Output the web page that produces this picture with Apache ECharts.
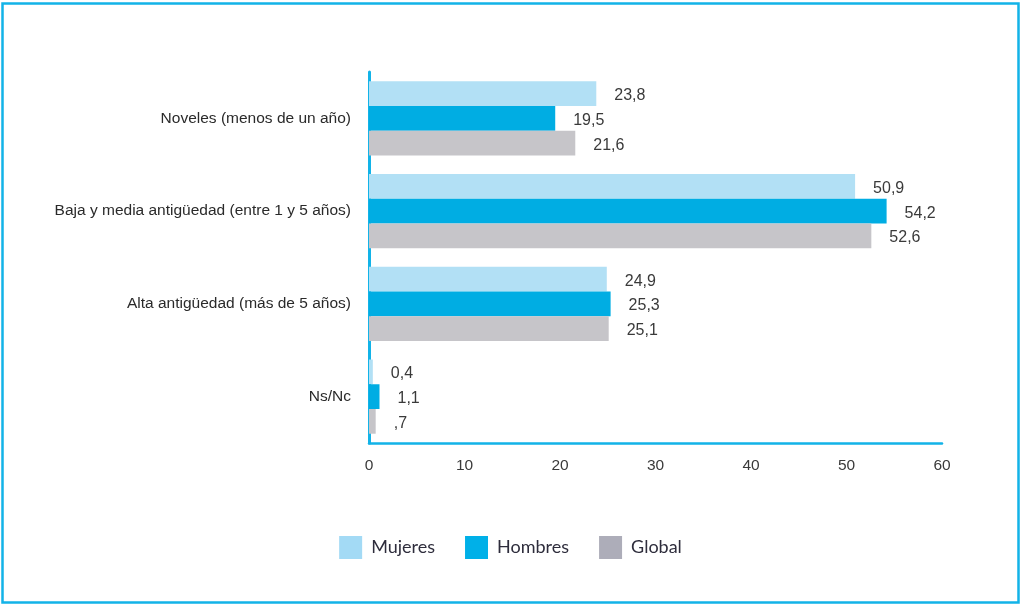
<!DOCTYPE html>
<html>
<head>
<meta charset="utf-8">
<script src="https://cdn.jsdelivr.net/npm/echarts@6/dist/echarts.min.js"></script>
<style>
  html, body { margin: 0; padding: 0; background: #ffffff; }
  #chart { width: 1021px; height: 606px; }
</style>
</head>
<body>
<div id="chart"></div>
<script>
// Antigüedad por sexo (%)
const categories = [
  'Noveles (menos de un año)',
  'Baja y media antigüedad (entre 1 y 5 años)',
  'Alta antigüedad (más de 5 años)',
  'Ns/Nc'
];
const mujeres = [23.8, 50.9, 24.9, 0.4];
const hombres = [19.5, 54.2, 25.3, 1.1];
const global = [21.6, 52.6, 25.1, 0.7];
const labelText = {
  Mujeres: ['23,8', '50,9', '24,9', '0,4'],
  Hombres: ['19,5', '54,2', '25,3', '1,1'],
  Global: ['21,6', '52,6', '25,1', ',7']
};
const xTicks = { min: 0, max: 60, interval: 10 };

const chart = echarts.init(document.getElementById('chart'));

function barSeries(name, data, color) {
  return {
    name: name,
    type: 'bar',
    data: data,
    barGap: '0%',
    barCategoryGap: '20%',
    itemStyle: { color: color },
    label: {
      show: true,
      position: 'right',
      distance: 18,
      fontFamily: 'Liberation Sans, Arial, sans-serif',
      fontSize: 16,
      color: '#3a3a3a',
      offset: [0, 2],
      formatter: p => labelText[name][p.dataIndex]
    }
  };
}

chart.setOption({
  animation: false,
  textStyle: { fontFamily: 'Liberation Sans, Arial, sans-serif' },
  graphic: [{
    type: 'rect',
    shape: { x: 2.5, y: 3.5, width: 1016, height: 599 },
    style: { fill: 'none', stroke: '#12b3e8', lineWidth: 2.5 },
    silent: true
  }],
  grid: { left: 369, right: 79, top: 72, bottom: 163, containLabel: false },
  legend: {
    bottom: 42,
    left: 'center',
    itemWidth: 23,
    itemHeight: 23,
    itemGap: 30,
    icon: 'rect',
    textStyle: { fontFamily: 'Lato, sans-serif', fontSize: 18, color: '#2e2d3c', padding: [6, 0, 0, 4] },
    data: [
      { name: 'Mujeres', itemStyle: { color: '#a3daf5' } },
      { name: 'Hombres', itemStyle: { color: '#00b0e8' } },
      { name: 'Global', itemStyle: { color: '#adadb9' } }
    ]
  },
  xAxis: {
    type: 'value',
    min: xTicks.min,
    max: xTicks.max,
    interval: xTicks.interval,
    axisLine: { show: true, lineStyle: { color: '#12b3e8', width: 2.5 } },
    axisTick: { show: false },
    splitLine: { show: false },
    axisLabel: { margin: 15, fontSize: 15.5, color: '#3a3a3a' }
  },
  yAxis: {
    type: 'category',
    data: categories,
    inverse: true,
    axisLine: { show: true, lineStyle: { color: '#12b3e8', width: 3 } },
    axisTick: { show: false },
    axisLabel: { margin: 18, fontSize: 15.5, color: '#2a2a2a' }
  },
  series: [
    barSeries('Mujeres', mujeres, '#b2e0f5'),
    barSeries('Hombres', hombres, '#00ade3'),
    barSeries('Global', global, '#c6c5c9')
  ]
});
</script>
</body>
</html>
